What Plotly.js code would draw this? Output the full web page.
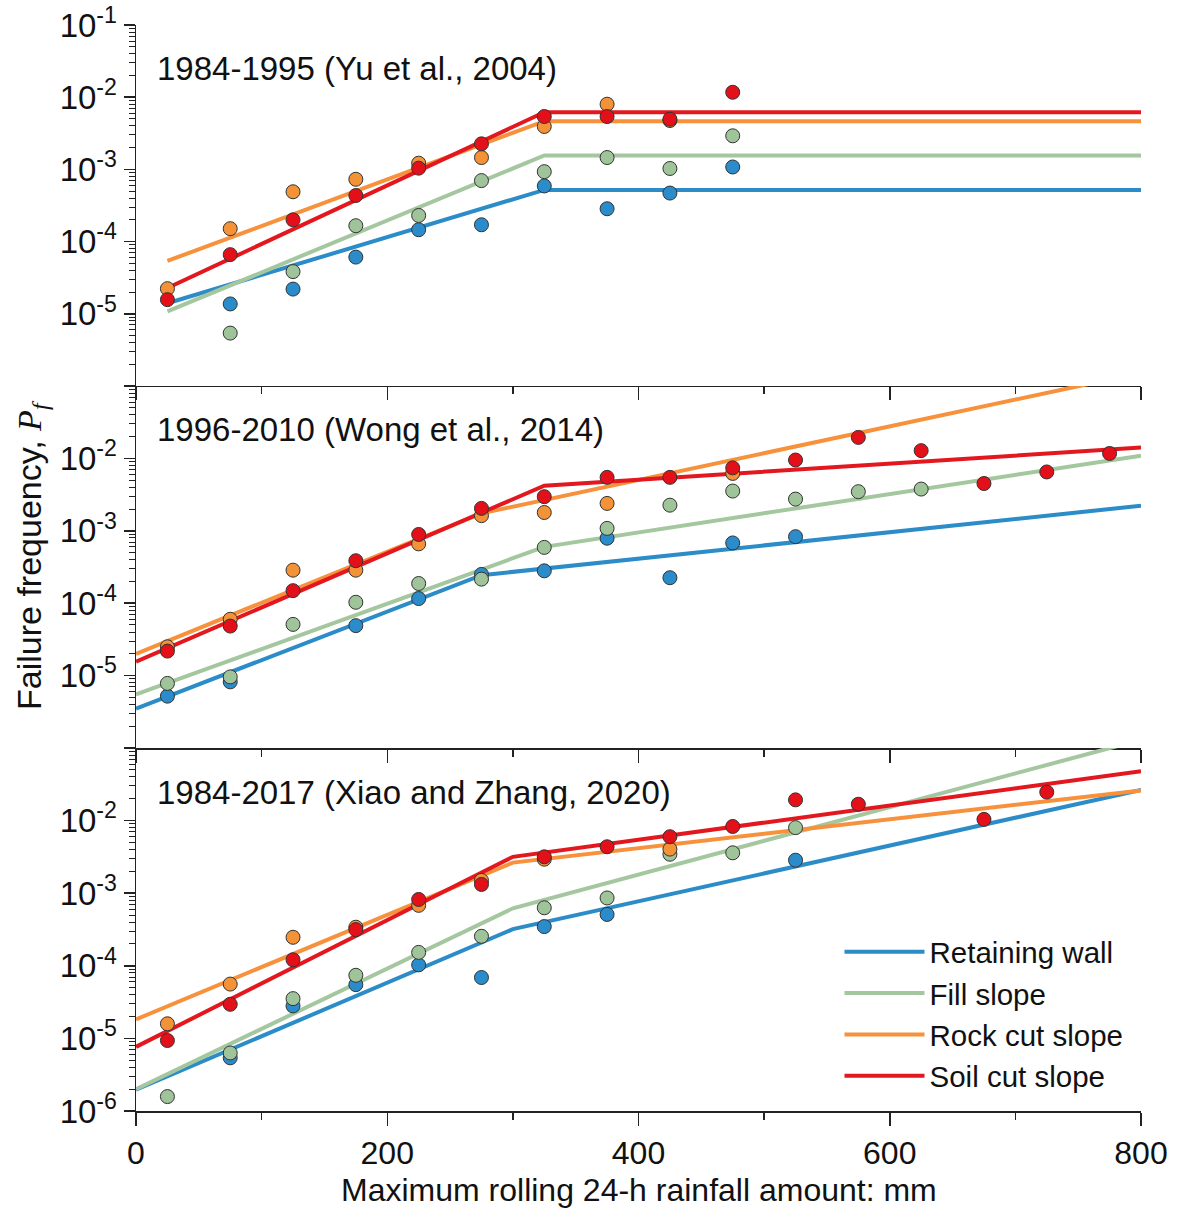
<!DOCTYPE html>
<html>
<head>
<meta charset="utf-8">
<script src="https://cdn.plot.ly/plotly-3.0.1.min.js"></script>
<style>
html,body{margin:0;padding:0;background:#fff;}
#chart{width:1177px;height:1209px;}
</style>
</head>
<body>
<div id="chart"></div>
<script>
// ---------- data ----------
const seriesNames = ["Retaining wall", "Fill slope", "Rock cut slope", "Soil cut slope"];
const panelTitles = ["1984-1995 (Yu et al., 2004)", "1996-2010 (Wong et al., 2014)", "1984-2017 (Xiao and Zhang, 2020)"];
const xBins = [25, 75, 125, 175, 225, 275, 325, 375, 425, 475, 525, 575, 625, 675, 725, 775];

// Panel 1: 1984-1995 observed failure frequency per rainfall bin
const wall1 = [null, 1.37e-5, 2.2e-5, 6.1e-5, 1.46e-4, 1.71e-4, 5.9e-4, 2.85e-4, 4.7e-4, 1.08e-3];
const fill1 = [null, 5.4e-6, 3.84e-5, 1.66e-4, 2.3e-4, 7.0e-4, 9.3e-4, 1.46e-3, 1.03e-3, 2.92e-3];
const rock1 = [2.23e-5, 1.51e-4, 4.9e-4, 7.3e-4, 1.22e-3, 1.46e-3, 3.93e-3, 8.0e-3, 4.75e-3, null];
const soil1 = [1.57e-5, 6.6e-5, 2.0e-4, 4.35e-4, 1.04e-3, 2.26e-3, 5.4e-3, 5.4e-3, 4.96e-3, 1.17e-2];

// Panel 2: 1996-2010
const wall2 = [5.2e-6, 8.2e-6, null, 4.9e-5, 1.16e-4, 2.5e-4, 2.8e-4, 7.9e-4, 2.25e-4, 6.8e-4, 8.3e-4];
const fill2 = [7.8e-6, 9.6e-6, 5.1e-5, 1.03e-4, 1.87e-4, 2.15e-4, 5.9e-4, 1.08e-3, 2.26e-3, 3.54e-3, 2.74e-3, 3.47e-3, 3.77e-3];
const rock2 = [2.5e-5, 6.0e-5, 2.86e-4, 2.86e-4, 6.6e-4, 1.62e-3, 1.79e-3, 2.39e-3, null, 6.2e-3];
const soil2 = [2.18e-5, 4.83e-5, 1.49e-4, 3.86e-4, 8.9e-4, 2.04e-3, 2.96e-3, 5.47e-3, 5.47e-3, 7.4e-3, 9.5e-3, 1.95e-2, 1.28e-2, 4.5e-3, 6.5e-3, 1.17e-2];

// Panel 3: 1984-2017
const wall3 = [null, 5.4e-6, 2.8e-5, 5.5e-5, 1.03e-4, 6.9e-5, 3.47e-4, 5.1e-4, null, null, 2.85e-3];
const fill3 = [1.58e-6, 6.3e-6, 3.53e-5, 7.4e-5, 1.53e-4, 2.55e-4, 6.3e-4, 8.6e-4, 3.44e-3, 3.6e-3, 8.0e-3];
const rock3 = [1.59e-5, 5.6e-5, 2.47e-4, 3.4e-4, 6.8e-4, 1.5e-3, 2.94e-3, null, 4.05e-3];
const soil3 = [9.35e-6, 2.95e-5, 1.21e-4, 3.15e-4, 8.2e-4, 1.32e-3, 3.17e-3, 4.36e-3, 6.0e-3, 8.3e-3, 1.93e-2, 1.68e-2, null, 1.04e-2, 2.47e-2];

// Fitted piecewise lines (x break points and values)
const fitX1 = [25, 325, 800];
const fitWall1 = [1.4e-5, 5.2e-4, 5.2e-4];
const fitFill1 = [1.08e-5, 1.56e-3, 1.56e-3];
const fitRock1 = [5.4e-5, 4.65e-3, 4.65e-3];
const fitSoil1 = [2.28e-5, 6.2e-3, 6.2e-3];

const fitWallX2 = [0, 275, 800], fitWall2 = [3.5e-6, 2.44e-4, 2.22e-3];
const fitFillX2 = [0, 325, 800], fitFill2 = [5.5e-6, 6.0e-4, 1.09e-2];
const fitRockX2 = [0, 275, 800], fitRock2 = [2.0e-5, 1.74e-3, 0.152];
const fitSoilX2 = [0, 325, 800], fitSoil2 = [1.56e-5, 4.2e-3, 1.41e-2];

const fitX3 = [0, 300, 800];
const fitWall3 = [1.96e-6, 3.2e-4, 2.65e-2];
const fitFill3 = [2.0e-6, 6.2e-4, 0.13];
const fitRock3 = [1.83e-5, 2.64e-3, 2.6e-2];
const fitSoil3 = [7.65e-6, 3.17e-3, 4.78e-2];

// ---------- styles ----------
const lineColors = ["#2b8cc8", "#a4c79f", "#f7913b", "#e3171e"];
const markerColors = ["#2a8ccb", "#9fc49a", "#f39236", "#e3101a"];
const FONT = "Arial, 'Liberation Sans', sans-serif";

const panels = [
  {obs: [wall1, fill1, rock1, soil1], fx: [fitX1, fitX1, fitX1, fitX1], fy: [fitWall1, fitFill1, fitRock1, fitSoil1]},
  {obs: [wall2, fill2, rock2, soil2], fx: [fitWallX2, fitFillX2, fitRockX2, fitSoilX2], fy: [fitWall2, fitFill2, fitRock2, fitSoil2]},
  {obs: [wall3, fill3, rock3, soil3], fx: [fitX3, fitX3, fitX3, fitX3], fy: [fitWall3, fitFill3, fitRock3, fitSoil3]}
];

const traces = [];
panels.forEach((p, i) => {
  const xa = i === 0 ? "x" : "x" + (i + 1);
  const ya = i === 0 ? "y" : "y" + (i + 1);
  for (let s = 0; s < 4; s++) {
    traces.push({
      type: "scatter", mode: "lines", x: p.fx[s], y: p.fy[s],
      xaxis: xa, yaxis: ya, name: seriesNames[s],
      line: {color: lineColors[s], width: 4},
      showlegend: i === 2, hoverinfo: "skip"
    });
  }
});
panels.forEach((p, i) => {
  const xa = i === 0 ? "x" : "x" + (i + 1);
  const ya = i === 0 ? "y" : "y" + (i + 1);
  for (let s = 0; s < 4; s++) {
    traces.push({
      type: "scatter", mode: "markers", x: xBins.slice(0, p.obs[s].length), y: p.obs[s],
      xaxis: xa, yaxis: ya, name: seriesNames[s],
      marker: {color: markerColors[s], size: 14, line: {color: "#333333", width: 1}},
      showlegend: false, hoverinfo: "skip", cliponaxis: false
    });
  }
});

// ---------- axes ----------
const decades = [1e-6, 1e-5, 1e-4, 1e-3, 1e-2, 1e-1];
const decadeText = ["10<sup>-6</sup>", "10<sup>-5</sup>", "10<sup>-4</sup>", "10<sup>-3</sup>", "10<sup>-2</sup>", "10<sup>-1</sup>"];
const minorVals = [];
for (let k = -6; k <= -2; k++) for (let m = 2; m <= 9; m++) minorVals.push(m * Math.pow(10, k));

function yAxis(domain, showMask) {
  return {
    type: "log", range: [-6, -1], domain: domain,
    showline: true, linecolor: "#222", linewidth: 1.5, mirror: false,
    showgrid: false, zeroline: false,
    ticks: "outside", ticklen: 11, tickwidth: 1.5, tickcolor: "#222",
    tickmode: "array", tickvals: decades,
    ticktext: decadeText.map((t, j) => showMask[j] ? t : ""),
    tickfont: {family: FONT, size: 33, color: "#111"},
    minor: {ticks: "outside", ticklen: 6, tickwidth: 1, tickcolor: "#222", tickmode: "array", tickvals: minorVals, showgrid: false},
    fixedrange: true
  };
}
function xAxis(anchor, showLabels) {
  return {
    range: [0, 800], anchor: anchor, domain: [0, 1],
    showline: true, linecolor: "#222", linewidth: 1.5,
    showgrid: false, zeroline: false,
    ticks: "outside", ticklen: 13, tickwidth: 1.5, tickcolor: "#222",
    tickmode: "array", tickvals: [0, 200, 400, 600, 800], ticktext: ["0", "200", "400", "600", "800"],
    showticklabels: showLabels,
    tickfont: {family: FONT, size: 32, color: "#111"},
    minor: {ticks: "outside", ticklen: 7, tickwidth: 1.5, tickcolor: "#222", tickmode: "array", tickvals: [100, 300, 500, 700], showgrid: false},
    fixedrange: true
  };
}

const layout = {
  width: 1177, height: 1209,
  margin: {l: 136, r: 36, t: 25, b: 98},
  paper_bgcolor: "#ffffff", plot_bgcolor: "rgba(0,0,0,0)",
  font: {family: FONT, size: 30, color: "#111"},
  xaxis: xAxis("y", false),
  xaxis2: xAxis("y2", false),
  xaxis3: xAxis("y3", true),
  yaxis: yAxis([0.66759, 1], [false, true, true, true, true, true]),
  yaxis2: yAxis([0.33425, 0.66759], [false, true, true, true, true, false]),
  yaxis3: yAxis([0, 0.33425], [true, true, true, true, true, false]),
  showlegend: true,
  legend: {
    x: 0.70, y: 0.1703, xanchor: "left", yanchor: "top",
    bgcolor: "rgba(0,0,0,0)", borderwidth: 0,
    font: {family: FONT, size: 29.5, color: "#111"},
    tracegroupgap: 0, itemwidth: 80
  },
  annotations: [
    {text: panelTitles[0], xref: "paper", yref: "paper", x: 0.019, y: 0.9604, xanchor: "left", yanchor: "middle", showarrow: false, font: {family: FONT, size: 33, color: "#111"}},
    {text: panelTitles[1], xref: "paper", yref: "paper", x: 0.019, y: 0.6271, xanchor: "left", yanchor: "middle", showarrow: false, font: {family: FONT, size: 33, color: "#111"}},
    {text: panelTitles[2], xref: "paper", yref: "paper", x: 0.019, y: 0.2937, xanchor: "left", yanchor: "middle", showarrow: false, font: {family: FONT, size: 33, color: "#111"}},
    {text: "Maximum rolling 24-h rainfall amount: mm", xref: "paper", yref: "paper", x: 0.5, y: -0.0727, xanchor: "center", yanchor: "middle", showarrow: false, font: {family: FONT, size: 32, color: "#111"}},
    {text: "Failure frequency, <span style=\"font-family:'Liberation Serif','Times New Roman',serif\"><i>P<sub>f</sub></i></span>", xref: "paper", yref: "paper", x: -0.1035, y: 0.512, xanchor: "center", yanchor: "middle", textangle: -90, showarrow: false, font: {family: FONT, size: 34, color: "#111"}}
  ]
};

Plotly.newPlot("chart", traces, layout, {displayModeBar: false, staticPlot: true});
</script>
</body>
</html>
